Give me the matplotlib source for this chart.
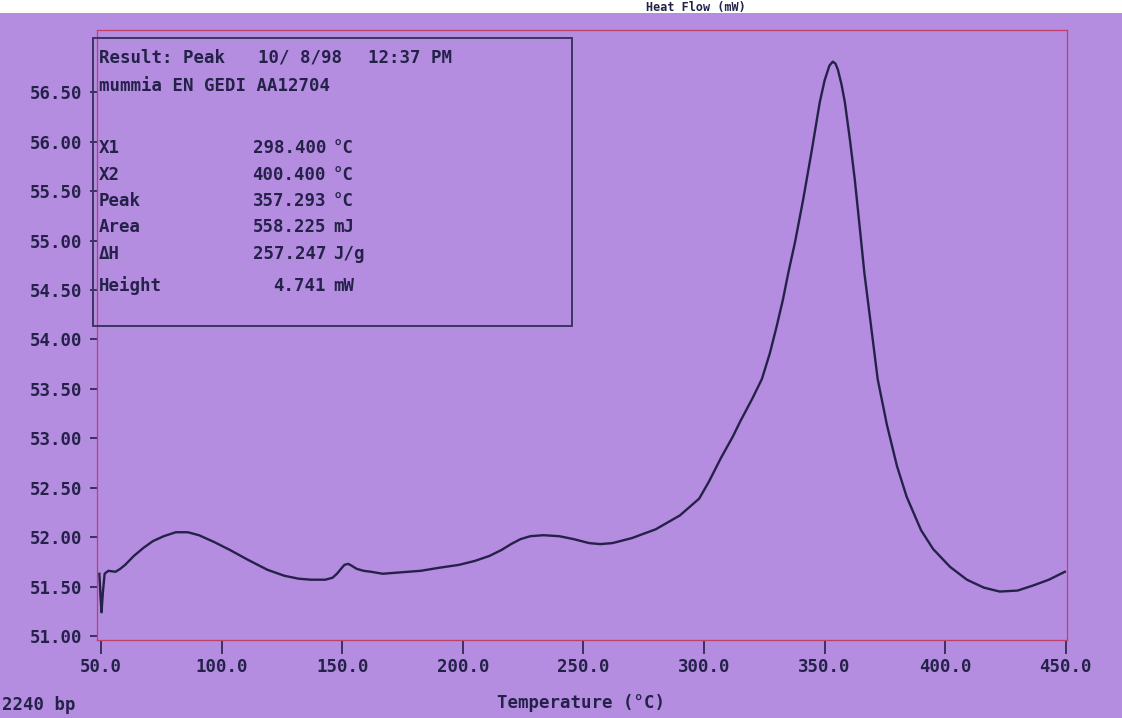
import numpy as np
import matplotlib
matplotlib.use("Agg")
import matplotlib.pyplot as plt
from matplotlib.patches import Rectangle

# DSC trace: temperature (°C) vs heat flow (mW)
temperature = [
    49.3, 49.8, 50.2, 50.8, 51.5, 53.0, 56.0, 58.0, 60.0, 63.6, 67.5, 71.5,
    76.0, 81.0, 86.0, 90.6, 97.0, 103.5, 111.0, 119.0, 126.0, 131.9, 137.0,
    143.0, 146.0, 147.8, 149.5, 150.9, 152.5, 154.0, 156.0, 158.8, 162.0,
    166.8, 172.0, 182.6, 190.0, 198.4, 205.0, 211.0, 216.0, 220.0, 223.9,
    228.0, 233.4, 240.0, 246.0, 252.4, 257.0, 262.0, 270.0, 280.0, 290.0,
    298.0, 302.0, 307.0, 312.0, 315.0, 320.0, 324.0, 327.3, 330.0, 332.7,
    335.0, 337.7, 341.0, 344.6, 348.0, 350.0, 352.0, 353.4, 354.5, 355.5,
    357.0, 358.4, 360.5, 362.5, 364.5, 366.5, 369.7, 372.0, 375.8,
    380.0, 384.0, 390.0, 395.0, 402.0, 409.0, 416.0, 422.6, 430.0, 436.3,
    443.0, 449.6,
]
heat_flow = [
    51.63, 51.40, 51.24, 51.45, 51.63, 51.66, 51.65, 51.68, 51.72, 51.81, 51.89, 51.96,
    52.01, 52.05, 52.05, 52.02, 51.95, 51.87, 51.77, 51.67, 51.61, 51.58, 51.57,
    51.57, 51.59, 51.63, 51.68, 51.72, 51.73, 51.71, 51.68, 51.66, 51.65,
    51.63, 51.64, 51.66, 51.69, 51.72, 51.76, 51.81, 51.87, 51.93, 51.98,
    52.01, 52.02, 52.01, 51.98, 51.94, 51.93, 51.94, 51.99, 52.08, 52.22,
    52.39, 52.56, 52.80, 53.02, 53.17, 53.40, 53.60, 53.86, 54.12, 54.40,
    54.68, 54.98, 55.40, 55.90, 56.40, 56.62, 56.77, 56.81, 56.79, 56.73,
    56.58, 56.40, 56.02, 55.62, 55.15, 54.67, 54.05, 53.60, 53.14,
    52.72, 52.41, 52.07, 51.88, 51.70, 51.57, 51.49, 51.45, 51.46, 51.51,
    51.57, 51.65,
]

x_ticks = [50, 100, 150, 200, 250, 300, 350, 400, 450]
y_ticks = [51.0, 51.5, 52.0, 52.5, 53.0, 53.5, 54.0, 54.5, 55.0, 55.5, 56.0, 56.5]

result_labels = ["X1", "X2", "Peak", "Area", "\u0394H", "Height"]
result_values = ["298.400", "400.400", "357.293", "558.225", "257.247", "4.741"]
result_units = ["\u00b0C", "\u00b0C", "\u00b0C", "mJ", "J/g", "mW"]

W, H = 1122, 718
paper = "#b48ce0"
ink = "#25224a"
red = "#c0406a"
mono = "DejaVu Sans Mono"


def px(x, y):
    # pixel position (from top-left) -> figure fraction
    return x / W, 1 - y / H


fig = plt.figure(figsize=(W / 100, H / 100), dpi=100, facecolor=paper)
ax = fig.add_axes([97.4 / W, 1 - 640 / H, 969.6 / W, 610 / H])
ax.set_facecolor(paper)

ax.plot(temperature, heat_flow, color=ink, lw=1.7, solid_joinstyle="round")

ax.set_xlim(48.5, 450.5)
ax.set_ylim(50.96, 57.13)
ax.set_xticks(x_ticks)
ax.set_xticklabels([f"{t:.1f}" for t in x_ticks])
ax.set_yticks(y_ticks)
ax.set_yticklabels([f"{t:.2f}" for t in y_ticks])

for s in ax.spines.values():
    s.set_color(red)
    s.set_linewidth(0.9)

ax.tick_params(axis="x", direction="out", length=10, width=1.2, color=ink,
               pad=3, labelsize=12.5, labelcolor=ink)
ax.tick_params(axis="y", direction="out", length=5, width=1.2, color=ink,
               pad=6, labelsize=12.5, labelcolor=ink)
for lab in ax.get_xticklabels() + ax.get_yticklabels():
    lab.set_family(mono)
    lab.set_weight("bold")

txt = dict(family=mono, weight="bold", color=ink, fontsize=12.5, va="center")

# result box
bx0, by0 = px(93, 326)
bx1, by1 = px(572, 38)
fig.add_artist(Rectangle((bx0, by0), bx1 - bx0, by1 - by0, transform=fig.transFigure,
                         fill=False, edgecolor="#3a3560", lw=1.4))

fig.text(*px(99, 58), "Result: Peak", **txt)
fig.text(*px(258, 58), "10/ 8/98", **txt)
fig.text(*px(368, 58), "12:37 PM", **txt)
fig.text(*px(99, 86), "mummia EN GEDI AA12704", **txt)

rows_y = [148, 175, 201, 227, 254, 286]
for y, name, val, unit in zip(rows_y, result_labels, result_values, result_units):
    fig.text(*px(99, y), name, **txt)
    fig.text(*px(326, y), val, ha="right", **txt)
    fig.text(*px(333, y), unit, **txt)

fig.text(*px(581, 703), "Temperature (\u00b0C)", ha="center", **txt)
fig.text(*px(2, 705), "2240 bp", ha="left", **txt)

# white strip along the top edge of the photo, with the heading in it
fig.add_artist(Rectangle((0, 1 - 13 / H), 1, 13 / H, transform=fig.transFigure,
                         facecolor="white", edgecolor="none", zorder=1))
fig.text(*px(696, 7), "Heat Flow (mW)", ha="center",
         **{**txt, "fontsize": 8.5, "zorder": 5})

fig.savefig("out.png", dpi=100, facecolor=paper)
